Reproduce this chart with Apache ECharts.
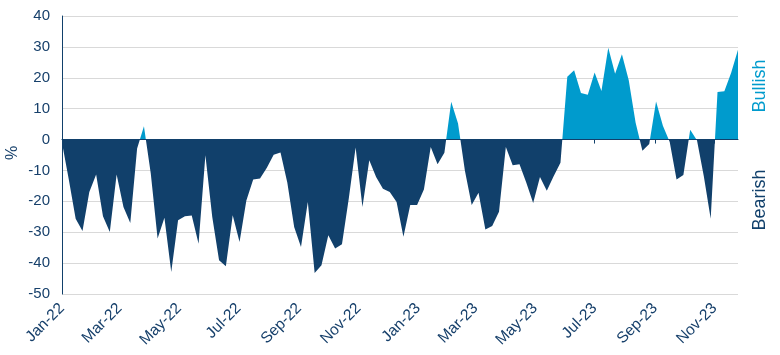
<!DOCTYPE html>
<html>
<head>
<meta charset="utf-8">
<script src="https://cdn.jsdelivr.net/npm/echarts@6/dist/echarts.min.js"></script>
<style>
html,body{margin:0;padding:0;background:#fff;}
#chart{width:780px;height:355px;}
</style>
</head>
<body>
<div id="chart"></div>
<script>
// Weekly sentiment spread (%), first week 2022-01-06
const firstWeek = '2022-01-06';
const spread = [
  -1, -13, -25.6, -29.6, -17, -11.3, -24.8, -29.9, -11.3, -21.8,
  -27, -2.9, 4.3, -11, -32, -25.3, -42.9, -26.1, -24.8, -24.6,
  -33.7, -5.1, -25, -39.1, -41, -24.5, -33.2, -19.7, -12.9, -12.6,
  -9.1, -4.9, -4.2, -14, -28.3, -34.8, -20.2, -43.2, -40.7, -31,
  -35.3, -33.9, -19.1, -2.6, -21.8, -6.7, -12.1, -15.9, -17, -20.2,
  -31.5, -21.2, -21.2, -16.2, -2.4, -8, -4.3, 12.2, 5.2, -10,
  -21.2, -17.2, -29.1, -28, -23.4, -2.4, -8.3, -8, -14, -20.5,
  -12.1, -16.6, -11.9, -7.5, 20.3, 22.4, 15.1, 14.5, 21.7, 15.7,
  29.7, 21.3, 27.6, 19.2, 5.5, -3.6, -1.4, 12.3, 4.5, -0.8,
  -12.9, -11.5, 3.2, -0.3, -12, -25.6, 15.4, 15.6, 21.6, 29.1
];
const tickDates = ['2022-01-06','2022-03-06','2022-05-06','2022-07-06','2022-09-06','2022-11-06',
                   '2023-01-06','2023-03-06','2023-05-06','2023-07-06','2023-09-06','2023-11-06'];
const tickLabels = ['Jan-22','Mar-22','May-22','Jul-22','Sep-22','Nov-22',
                    'Jan-23','Mar-23','May-23','Jul-23','Sep-23','Nov-23'];
const yTicks = [-50, -40, -30, -20, -10, 0, 10, 20, 30, 40];

const NAVY = '#11406B';
const BLUE = '#009BCD';
const TEXT = '#17406B';
const DAY = 86400000;
const t0 = Date.parse(firstWeek + 'T00:00:00Z');
// x positions in days since first week
const weekDays = spread.map((_, i) => i * 7);
const tickDays = tickDates.map(d => Math.round((Date.parse(d + 'T00:00:00Z') - t0) / DAY));
const seriesData = spread.map((v, i) => [weekDays[i], v]);
const xMin = weekDays[0], xMax = weekDays[weekDays.length - 1];

function labelFor(v) {
  const k = tickDays.findIndex(t => Math.abs(t - v) < 0.5);
  return k >= 0 ? tickLabels[k] : '';
}

const chart = echarts.init(document.getElementById('chart'), null, {renderer: 'canvas'});
const option = {
  animation: false,
  backgroundColor: '#ffffff',
  grid: {left: 62, right: 42, top: 16, bottom: 61, containLabel: false},
  xAxis: [{
    type: 'value', min: xMin, max: xMax, position: 'bottom',
    axisLine: {show: false, onZero: false},
    axisTick: {show: false},
    splitLine: {show: false},
    axisLabel: {
      customValues: tickDays, rotate: 45, margin: 12,
      color: TEXT, fontFamily: 'Liberation Sans, Arial, sans-serif', fontSize: 15.5,
      formatter: labelFor
    }
  }, {
    type: 'value', min: xMin, max: xMax, position: 'bottom', z: 10,
    axisLine: {show: true, onZero: true, lineStyle: {color: NAVY, width: 1}},
    axisTick: {show: true, customValues: tickDays, length: 4, inside: false, lineStyle: {color: NAVY}},
    axisLabel: {show: false},
    splitLine: {show: false}
  }],
  yAxis: {
    type: 'value', min: -50, max: 40, interval: 10,
    axisLine: {show: true, onZero: false, lineStyle: {color: NAVY, width: 1}},
    axisTick: {show: false},
    axisLabel: {color: TEXT, fontFamily: 'Liberation Sans, Arial, sans-serif', fontSize: 15, margin: 12,
                formatter: v => yTicks.includes(v) ? String(v) : ''},
    splitLine: {show: true, lineStyle: {color: '#D9D9D9', width: 1}}
  },
  series: [{
    type: 'line', xAxisIndex: 0, data: seriesData,
    showSymbol: false, symbol: 'none',
    lineStyle: {width: 0, opacity: 0},
    areaStyle: {origin: 0, opacity: 1, color: NAVY},
    z: 2
  }],
  graphic: [
    {type: 'text', x: 13, y: 153, rotation: Math.PI / 2,
     style: {text: '%', fill: TEXT, font: '16px "Liberation Sans", Arial, sans-serif', align: 'center', verticalAlign: 'middle'}},
    {type: 'text', x: 760, y: 86, rotation: Math.PI / 2,
     style: {text: 'Bullish', fill: BLUE, font: '18px "Liberation Sans", Arial, sans-serif', align: 'center', verticalAlign: 'middle'}},
    {type: 'text', x: 760, y: 200, rotation: Math.PI / 2,
     style: {text: 'Bearish', fill: NAVY, font: '18px "Liberation Sans", Arial, sans-serif', align: 'center', verticalAlign: 'middle'}}
  ]
};
chart.setOption(option);
// split the fill colour exactly at the zero line (positive = bullish, negative = bearish)
const y0 = chart.convertToPixel({yAxisIndex: 0}, 0);
const H = chart.getHeight();
const f = y0 / H;
chart.setOption({series: [{areaStyle: {color: new echarts.graphic.LinearGradient(0, 0, 0, H, [
  {offset: 0, color: BLUE}, {offset: f, color: BLUE}, {offset: f, color: NAVY}, {offset: 1, color: NAVY}
], true)}}]});
</script>
</body>
</html>
